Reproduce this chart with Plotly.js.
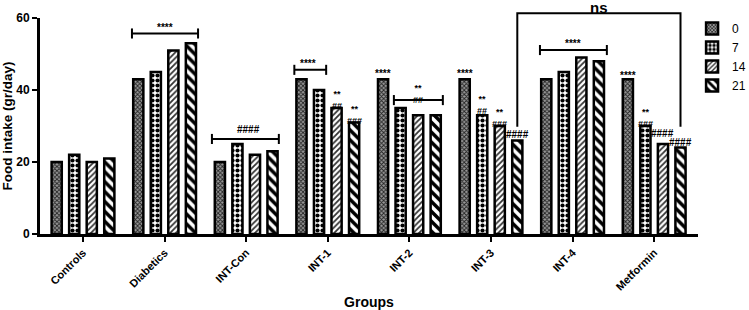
<!DOCTYPE html>
<html>
<head>
<meta charset="utf-8">
<script src="https://cdn.plot.ly/plotly-3.0.1.min.js"></script>
<style>html,body{margin:0;padding:0;background:#fff;}#chart{width:749px;height:310px;}</style>
</head>
<body>
<div id="chart"></div>
<script>
const groups = ["Controls","Diabetics","INT-Con","INT-1","INT-2","INT-3","INT-4","Metformin"];
const seriesNames = ["0","7","14","21"];
const day0  = [20, 43, 20, 43, 43, 43, 43, 43];
const day7  = [22, 45, 25, 40, 35, 33, 45, 30];
const day14 = [20, 51, 22, 35, 33, 30, 49, 25];
const day21 = [21, 53, 23, 31, 33, 26, 48, 24];
const yTicks = [0, 20, 40, 60];

// significance marks: [group index, bar position, text, value]
const marks = [
  [1, -1, "****", 57.3],
  [2, 0.03, "####", 28.9],
  [3, -0.24, "****", 47.4],
  [3, 2, "**<br>##", 37.3],
  [3, 3, "**<br>###", 33.1],
  [4, 0, "****", 44.6],
  [4, 1.5, "**<br>##", 38.9],
  [5, 0, "****", 44.5],
  [5, 1, "**<br>##", 35.9],
  [5, 2, "**<br>###", 32.3],
  [5, 3, "####", 27.7],
  [6, -1, "****", 52.8],
  [7, 0, "****", 43.9],
  [7, 1, "**<br>###", 32.3],
  [7, 2, "####", 28.0],
  [7, 3, "####", 25.4]
];
// brackets: [x start, x end, value]
const brackets = [
  [0.60, 1.41, 55.7],
  [1.58, 2.40, 26.4],
  [2.59, 2.98, 45.6],
  [3.81, 4.41, 37.2],
  [5.60, 6.42, 51.1]
];
const nsBracket = {x0: 5.3225, x1: 7.3225, top: 61.3, bottom: 29.8, label: "ns"};

const values = [day0, day7, day14, day21];
const patterns = [
  {shape: "x", fgcolor: "#222", bgcolor: "#999", size: 3, solidity: 0.5},
  {shape: ".", fgcolor: "#000", bgcolor: "#fff", size: 5, solidity: 0.55},
  {shape: "/", fgcolor: "#333", bgcolor: "#fff", size: 4, solidity: 0.45},
  {shape: "\\", fgcolor: "#000", bgcolor: "#fff", size: 7, solidity: 0.5}
];

const traces = values.map((v, i) => ({
  type: "bar",
  name: seriesNames[i],
  x: groups,
  y: v,
  marker: {color: "#fff", pattern: patterns[i], line: {color: "#000", width: 2.5}}
}));

const barOffsets = [-0.3225, -0.1075, 0.1075, 0.3225];
function barX(g, b) {
  if (b === -1) return g;
  if (Number.isInteger(b)) return g + barOffsets[b];
  if (b === 1.5) return g + 0.11;
  return g + b;
}

const FAM = "Arial, 'Liberation Sans', sans-serif";
const annotations = marks.map(m => ({
  x: barX(m[0], m[1]), y: m[3], xref: "x", yref: "y",
  text: "<b>" + m[2] + "</b>", showarrow: false, yanchor: "middle", borderpad: 0,
  font: {family: FAM, size: m[2].indexOf("<br>") >= 0 ? 9 : 10, color: "#000"}
}));
annotations.push({
  x: (nsBracket.x0 + nsBracket.x1) / 2, y: 1.0926, xref: "x", yref: "paper",
  text: "<b>" + nsBracket.label + "</b>", showarrow: false, yanchor: "top", borderpad: 0,
  font: {family: FAM, size: 15, color: "#000"}
});

const shapes = [];
brackets.forEach(b => {
  const ln = {color: "#000", width: 2};
  shapes.push({type: "line", xref: "x", yref: "y", x0: b[0], x1: b[1], y0: b[2], y1: b[2], line: ln});
  shapes.push({type: "line", xref: "x", yref: "y", x0: b[0], x1: b[0], y0: b[2] - 1.4, y1: b[2] + 1.4, line: ln});
  shapes.push({type: "line", xref: "x", yref: "y", x0: b[1], x1: b[1], y0: b[2] - 1.4, y1: b[2] + 1.4, line: ln});
});
shapes.push({
  type: "path", xref: "x", yref: "paper",
  path: `M ${nsBracket.x0},${nsBracket.bottom / 60} L ${nsBracket.x0},${nsBracket.top / 60} L ${nsBracket.x1},${nsBracket.top / 60} L ${nsBracket.x1},${nsBracket.bottom / 60}`,
  line: {color: "#000", width: 2}
});

const boldFont = {family: FAM, color: "#000", weight: "bold"};

const layout = {
  width: 749, height: 310,
  margin: {l: 40, r: 51, t: 18, b: 76, autoexpand: false},
  paper_bgcolor: "#fff", plot_bgcolor: "#fff",
  barmode: "group", bargap: 0.14, bargroupgap: 0.42,
  showlegend: true,
  legend: {x: 0.991, xanchor: "left", y: 1.019, yanchor: "top", font: {family: FAM, size: 12, color: "#000"}, bgcolor: "rgba(0,0,0,0)", tracegroupgap: 0},
  xaxis: {
    type: "category", range: [-0.527, 7.537],
    showline: true, linecolor: "#000", linewidth: 3,
    ticks: "outside", ticklen: 5, tickwidth: 2, tickcolor: "#000",
    tickangle: -45, automargin: false, tickfont: Object.assign({size: 11}, boldFont),
    showgrid: false, zeroline: false,
    title: {text: "Groups", font: Object.assign({size: 14}, boldFont), standoff: 10}
  },
  yaxis: {
    range: [0, 60], tickvals: yTicks, ticktext: yTicks.map(String),
    showline: true, linecolor: "#000", linewidth: 3,
    ticks: "outside", ticklen: 5, tickwidth: 2, tickcolor: "#000",
    tickfont: Object.assign({size: 12}, boldFont),
    showgrid: false, zeroline: false, automargin: true,
    title: {text: "Food intake (gr/day)", font: Object.assign({size: 13.5}, boldFont), standoff: 2}
  },
  annotations: annotations,
  shapes: shapes
};

Plotly.newPlot("chart", traces, layout, {displayModeBar: false, staticPlot: true});
</script>
</body>
</html>
